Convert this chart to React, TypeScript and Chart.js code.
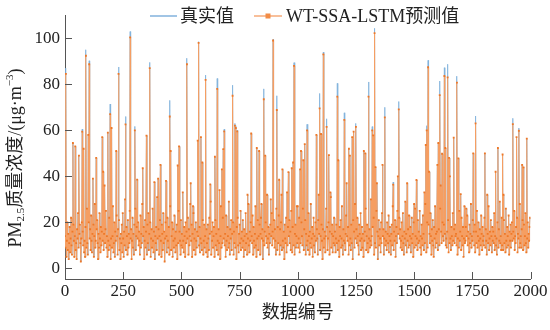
import React, { useEffect, useRef } from "react";
import { Chart, registerables } from "chart.js";

Chart.register(...registerables);

// ---- data ----
const xTickValues = [0, 250, 500, 750, 1000, 1250, 1500, 1750, 2000];
const yTickValues = [0, 20, 40, 60, 80, 100];

// sample positions (data index, every 2nd record)
const sampleIdx: number[] = Array.from({ length: 1000 }, (_, i) => i * 2);

// baseline concentration band
const baseValues = [
  14, 9, 17, 5, 12, 20, 8, 15, 4, 11, 18, 7, 13, 22, 10, 6, 16, 9, 19, 12,
  5, 14, 21, 8, 11, 4, 17, 13, 24, 9, 6, 15, 19, 11, 3, 13, 20, 8, 16, 10,
  22, 7, 12, 5, 18, 14, 9, 26, 11, 6, 16, 20, 4, 13, 17, 8, 23, 12, 7, 15,
  10, 19, 5, 14, 28, 9, 12, 6, 17, 21, 11, 4, 15, 9, 24, 13, 7, 18, 10, 16,
  6, 12, 20, 8, 15, 3, 11, 17, 25, 9, 14, 5, 19, 12, 8, 22, 10, 16, 4, 13,
  18, 9, 14, 27, 7, 11, 20, 5, 16, 12, 9, 23, 14, 6, 17, 10, 21, 8, 13, 4,
  15, 11, 19, 7, 24, 13, 5, 16, 10, 30, 12, 8, 18, 14, 6, 21, 9, 15, 11, 25,
  7, 13, 17, 4, 12, 22, 9, 15, 6, 19, 11, 26, 8, 14, 18, 5, 13, 20, 10, 16,
  12, 6, 23, 9, 15, 11, 28, 7, 14, 18, 4, 12, 21, 9, 16, 13, 6, 19, 11, 24,
  8, 15, 10, 20, 5, 13, 17, 9, 26, 12, 7, 16, 22, 4, 14, 11, 18, 8, 31, 13,
  10, 17, 6, 14, 21, 9, 12, 5, 19, 15, 8, 24, 11, 16, 3, 13, 20, 10, 14, 7,
  22, 12, 9, 18, 6, 15, 27, 11, 8, 14, 20, 5, 17, 12, 9, 23, 13, 7, 16, 10,
  19, 4, 14, 11, 25, 8, 16, 12, 6, 21, 10, 15, 9, 33, 12, 7, 18, 14, 5, 20,
  11, 16, 8, 13, 22, 6, 17, 10, 14, 28, 9, 12, 19, 5, 15, 11, 24, 8, 13, 17,
  6, 20, 12, 9, 16, 4, 14, 23, 10, 18, 7, 13, 26, 11, 8, 15, 21, 6, 12, 19,
  9, 14, 25, 7, 17, 11, 5, 19, 13, 8, 22, 15, 10, 29, 6, 16, 12, 20, 9, 14,
  18, 5, 13, 21, 10, 15, 8, 24, 12, 6, 17, 11, 19, 4, 14, 27, 9, 16, 11, 22,
  7, 13, 19, 10, 15, 5, 23, 12, 8, 18, 14, 9, 30, 11, 6, 17, 13, 21, 8, 15,
  12, 20, 6, 16, 11, 26, 9, 14, 4, 18, 13, 22, 10, 7, 15, 19, 11, 25, 8, 13,
  16, 9, 21, 12, 5, 17, 14, 8, 24, 11, 15, 6, 19, 13, 28, 10, 7, 16, 12, 20,
  8, 14, 11, 23, 6, 18, 12, 9, 15, 27, 10, 5, 17, 13, 21, 8, 14, 11, 19, 6,
  15, 22, 9, 13, 17, 4, 12, 25, 10, 16, 7, 20, 14, 11, 32, 9, 13, 18, 6, 15,
  11, 19, 7, 14, 24, 10, 16, 5, 13, 21, 9, 17, 12, 6, 26, 14, 8, 18, 11, 23,
  13, 6, 17, 10, 20, 15, 8, 29, 12, 9, 16, 4, 19, 13, 11, 22, 7, 15, 10, 18,
  5, 14, 21, 11, 16, 8, 25, 12, 7, 18, 13, 10, 23, 6, 15, 19, 9, 14, 27, 11,
  17, 9, 13, 22, 7, 16, 11, 5, 20, 14, 10, 26, 12, 8, 17, 13, 21, 6, 15, 10,
  19, 12, 8, 24, 14, 6, 16, 11, 28, 9, 13, 18, 5, 15, 22, 10, 14, 7, 20, 12,
  9, 17, 13, 6, 21, 11, 15, 25, 8, 14, 10, 19, 12, 4, 17, 23, 9, 13, 16, 7,
  14, 26, 10, 18, 8, 13, 20, 11, 6, 16, 12, 31, 9, 15, 19, 7, 14, 11, 22, 10,
  16, 7, 13, 19, 11, 24, 8, 15, 12, 5, 18, 14, 21, 9, 13, 27, 10, 6, 17, 12,
  20, 11, 8, 15, 23, 9, 14, 12, 18, 6, 16, 10, 25, 13, 8, 19, 11, 15, 4, 21,
  12, 16, 9, 28, 13, 7, 17, 11, 22, 14, 10, 6, 19, 15, 12, 24, 8, 13, 18, 9,
  15, 5, 20, 12, 16, 10, 26, 8, 14, 19, 11, 7, 23, 13, 17, 9, 12, 30, 10, 14,
  8, 18, 13, 22, 6, 15, 11, 19, 9, 25, 12, 16, 4, 14, 21, 10, 17, 13, 7, 20,
  11, 24, 9, 14, 17, 6, 13, 28, 10, 16, 12, 8, 20, 15, 11, 23, 7, 14, 18, 12,
  6, 15, 19, 10, 27, 13, 8, 16, 12, 21, 5, 14, 18, 11, 25, 9, 15, 10, 22, 13,
  17, 9, 12, 20, 8, 14, 24, 11, 6, 16, 13, 29, 10, 15, 7, 19, 12, 17, 9, 23,
  10, 14, 18, 7, 13, 22, 11, 15, 5, 20, 12, 9, 26, 14, 10, 17, 13, 8, 21, 11,
  16, 12, 25, 9, 14, 6, 19, 13, 10, 23, 15, 8, 17, 11, 28, 12, 7, 16, 20, 9,
  13, 19, 8, 15, 11, 24, 14, 6, 17, 12, 21, 10, 5, 18, 13, 27, 9, 15, 11, 16,
  22, 8, 14, 17, 10, 13, 26, 9, 16, 11, 7, 20, 14, 12, 19, 6, 15, 23, 10, 13,
  9, 16, 12, 21, 7, 15, 11, 30, 13, 8, 18, 14, 10, 24, 12, 6, 17, 11, 19, 14,
  15, 10, 20, 6, 13, 17, 9, 25, 12, 16, 11, 8, 22, 14, 10, 18, 5, 13, 27, 11,
  12, 18, 8, 14, 23, 10, 16, 13, 7, 19, 11, 15, 28, 9, 14, 12, 21, 8, 16, 10,
  19, 7, 13, 16, 11, 25, 9, 14, 20, 12, 6, 17, 13, 10, 23, 15, 8, 18, 12, 14,
  10, 22, 14, 9, 17, 12, 6, 19, 15, 11, 27, 8, 13, 16, 10, 21, 14, 7, 18, 12,
  16, 11, 24, 8, 14, 19, 10, 13, 6, 20, 15, 9, 17, 12, 29, 11, 14, 8, 22, 10,
  13, 8, 17, 21, 11, 15, 7, 26, 12, 9, 18, 14, 10, 23, 6, 16, 12, 19, 9, 15,
  20, 12, 9, 16, 13, 25, 8, 14, 11, 18, 10, 22, 7, 15, 13, 17, 9, 28, 11, 14,
  9, 17, 12, 21, 8, 15, 19, 10, 14, 24, 11, 7, 16, 13, 20, 9, 15, 12, 18, 22,
];

// pollution episodes (peaks): record index, predicted value, true value
const peakIdx = [
  4, 34, 44, 60, 74, 80, 90, 100, 104, 120, 134, 160, 164, 170, 184, 194, 200, 220, 230, 260,
  280, 300, 310, 334, 350, 364, 384, 400, 410, 434, 450, 454, 484, 490, 524, 540, 550, 570, 574, 584,
  590, 604, 624, 644, 654, 664, 674, 680, 684, 704, 720, 730, 734, 740, 784, 800, 824, 834, 844, 854,
  860, 884, 894, 910, 920, 930, 934, 954, 960, 974, 980, 984, 1000, 1010, 1014, 1024, 1030, 1040, 1080, 1090,
  1094, 1100, 1110, 1124, 1134, 1140, 1170, 1174, 1200, 1210, 1220, 1224, 1234, 1240, 1250, 1284, 1290, 1304, 1320, 1324,
  1330, 1334, 1340, 1364, 1374, 1410, 1430, 1434, 1470, 1500, 1510, 1544, 1550, 1554, 1560, 1564, 1600, 1604, 1610, 1614,
  1620, 1630, 1634, 1644, 1650, 1654, 1670, 1684, 1690, 1700, 1724, 1754, 1764, 1804, 1814, 1850, 1860, 1880, 1884, 1924,
  1940, 1950, 1964, 1970, 1984,
];
const peakPred = [
  84.5, 54.5, 53, 49, 59.4, 52, 92.4, 58, 88.7, 39, 48, 57, 42, 36, 59, 67, 61, 51, 84.5, 62.6,
  100.4, 60, 38.6, 43.5, 57.7, 87, 37.5, 39, 45, 38, 66, 51, 44.7, 53, 88.7, 37, 27, 55.5, 98, 57,
  46, 81.9, 36.5, 48.5, 78, 34, 43, 51.8, 59.5, 29, 75, 62, 61, 59.5, 32, 58.6, 52.3, 51, 28, 73.5,
  49, 30, 99, 68.8, 38.5, 32, 43, 33, 41.8, 43.5, 46, 88, 27, 43, 51, 47, 54, 60, 58, 32,
  69.5, 58.4, 93, 61.5, 49.2, 33, 74.6, 47, 64.5, 37, 52, 49, 57, 59.4, 61.5, 51, 50, 74.6, 60, 57.8,
  102.2, 44, 37, 45, 65.6, 36.4, 40, 69.1, 37, 28, 38.4, 33, 53.6, 60, 87.4, 42, 45, 54.5, 75.3, 36,
  49.8, 83.6, 52.3, 83, 48, 40, 56.8, 80.7, 47.8, 32.3, 26, 50, 63, 50, 32, 42, 52.3, 49.5, 32, 62.7,
  57, 59.8, 45, 43.9, 56.4,
];
const peakTrue = [
  87, 54.5, 53, 49, 60.5, 52, 95, 58, 90.2, 39, 48, 57, 42, 36, 59, 71.4, 61, 51, 87.5, 66,
  102.9, 61.7, 38.6, 43.5, 57.7, 89.5, 37.5, 39, 45, 38, 73, 51, 44.7, 53, 91.3, 37, 27, 55.5, 98.5, 57,
  46, 84, 36.5, 48.5, 82.5, 34, 43, 51.8, 60.5, 29, 79.6, 63, 62, 60, 32, 58.6, 52.3, 51, 28, 78,
  49, 30, 99.5, 75, 38.5, 32, 43, 33, 41.8, 43.5, 46, 89.4, 27, 43, 51, 47, 54, 62.6, 58, 32,
  76, 58.4, 94, 65, 49.2, 33, 80.4, 47, 67.6, 37, 52, 49, 57, 59.4, 63, 51, 50, 81, 61.6, 57.8,
  104.3, 44, 37, 45, 70, 37.5, 40, 72.5, 37, 28, 38.4, 33, 53.6, 62, 90.4, 42, 45, 54.5, 81.4, 36,
  49.8, 87.2, 52.3, 88.7, 48, 40, 56.8, 83.5, 47.8, 32.3, 26, 50, 66.2, 50, 32, 42, 52.3, 49.5, 32, 65.2,
  57, 61, 45, 43.9, 56.4,
];

const legendLabels = ["真实值", "WT-SSA-LSTM预测值"];
const xTitle = "数据编号";

// ---- styles ----
const SERIF = "'Liberation Serif', 'Times New Roman', 'Noto Sans CJK SC', serif";
const AXIS = "#555555";
const TEXT = "#222222";
const BLUE = "rgb(130, 178, 220)";
const ORANGE_LINE = "rgb(245, 158, 98)";
const ORANGE_PT = "rgb(238, 120, 40)";

function buildSeries(override: number[]) {
  const vals = baseValues.slice();
  peakIdx.forEach((idx, k) => {
    vals[idx / 2] = override[k];
  });
  return sampleIdx.map((x, i) => ({ x, y: vals[i] }));
}

const decorPlugin = {
  id: "decor",
  afterDraw(chart: any) {
    const { ctx, chartArea, scales } = chart;
    ctx.save();
    // inward tick marks
    ctx.strokeStyle = AXIS;
    ctx.lineWidth = 1;
    xTickValues.forEach((v) => {
      const x = Math.round(scales.x.getPixelForValue(v)) + 0.5;
      ctx.beginPath();
      ctx.moveTo(x, chartArea.bottom);
      ctx.lineTo(x, chartArea.bottom - 7);
      ctx.stroke();
    });
    yTickValues.forEach((v) => {
      const y = Math.round(scales.y.getPixelForValue(v)) + 0.5;
      ctx.beginPath();
      ctx.moveTo(chartArea.left, y);
      ctx.lineTo(chartArea.left + 7, y);
      ctx.stroke();
    });

    // legend
    const ly = 16;
    ctx.font = `18px ${SERIF}`;
    ctx.textBaseline = "middle";
    ctx.fillStyle = TEXT;
    ctx.strokeStyle = BLUE;
    ctx.lineWidth = 1.5;
    ctx.beginPath();
    ctx.moveTo(150, ly);
    ctx.lineTo(177, ly);
    ctx.stroke();
    ctx.fillText(legendLabels[0], 180, ly + 1);
    ctx.strokeStyle = "rgb(246, 170, 120)";
    ctx.beginPath();
    ctx.moveTo(254, ly);
    ctx.lineTo(282, ly);
    ctx.stroke();
    ctx.fillStyle = "rgb(242, 140, 70)";
    ctx.fillRect(265.5, ly - 2.5, 5, 5);
    ctx.fillStyle = TEXT;
    ctx.fillText(legendLabels[1], 286, ly + 1);

    // y axis title with sub/superscripts
    const big = 18;
    const small = 11;
    const parts: { t: string; size: number; dy: number }[] = [
      { t: "PM", size: big, dy: 0 },
      { t: "2.5", size: small, dy: 5 },
      { t: "质量浓度/(μg·m", size: big, dy: 0 },
      { t: "−3", size: small, dy: -6 },
      { t: ")", size: big, dy: 0 },
    ];
    let total = 0;
    const widths = parts.map((p) => {
      ctx.font = `${p.size}px ${SERIF}`;
      const w = ctx.measureText(p.t).width;
      total += w;
      return w;
    });
    ctx.translate(16, 158);
    ctx.rotate(-Math.PI / 2);
    let cx = -total / 2;
    ctx.textAlign = "left";
    ctx.fillStyle = TEXT;
    parts.forEach((p, i) => {
      ctx.font = `${p.size}px ${SERIF}`;
      ctx.fillText(p.t, cx, p.dy);
      cx += widths[i];
    });
    ctx.restore();
  },
};

export default function App() {
  const ref = useRef<HTMLCanvasElement | null>(null);

  useEffect(() => {
    if (!ref.current) return;
    const chart = new Chart(ref.current, {
      type: "line",
      data: {
        datasets: [
          {
            label: legendLabels[0],
            data: buildSeries(peakTrue),
            borderColor: BLUE,
            borderWidth: 0.8,
            pointRadius: 0,
            tension: 0,
            order: 2,
          },
          {
            label: legendLabels[1],
            data: buildSeries(peakPred),
            borderColor: ORANGE_LINE,
            borderWidth: 1.1,
            pointStyle: "rect",
            pointRadius: 1.3,
            pointBackgroundColor: ORANGE_PT,
            pointBorderWidth: 0,
            tension: 0,
            order: 1,
          },
        ],
      },
      options: {
        animation: false,
        responsive: false,
        layout: { padding: { left: 0, right: 19.5, top: 15, bottom: 0 } },
        plugins: { legend: { display: false }, tooltip: { enabled: false } },
        scales: {
          x: {
            type: "linear",
            min: 0,
            max: 2000,
            afterBuildTicks: (s: any) => {
              s.ticks = xTickValues.map((v) => ({ value: v }));
            },
            afterFit: (s: any) => {
              s.height = 51;
            },
            grid: { drawOnChartArea: false, drawTicks: false },
            border: { display: true, color: AXIS, width: 1 },
            ticks: {
              font: { family: SERIF, size: 17 },
              color: TEXT,
              padding: 2,
              maxRotation: 0,
              autoSkip: false,
              callback: (v: any) => String(v),
            },
            title: {
              display: true,
              text: xTitle,
              font: { family: SERIF, size: 18 },
              color: TEXT,
              padding: { top: 0, bottom: 6 },
            },
          },
          y: {
            type: "linear",
            min: -4.6,
            max: 110,
            afterBuildTicks: (s: any) => {
              s.ticks = yTickValues.map((v) => ({ value: v }));
            },
            afterFit: (s: any) => {
              s.width = 65;
            },
            grid: { drawOnChartArea: false, drawTicks: false },
            border: { display: true, color: AXIS, width: 1 },
            ticks: {
              font: { family: SERIF, size: 17 },
              color: TEXT,
              padding: 5,
              callback: (v: any) => String(v),
            },
          },
        },
      },
      plugins: [decorPlugin],
    } as any);
    return () => chart.destroy();
  }, []);

  return (
    <div style={{ position: "absolute", left: 0, top: 0, width: 550, height: 330, background: "#fff" }}>
      <canvas ref={ref} width={550} height={330} />
    </div>
  );
}
